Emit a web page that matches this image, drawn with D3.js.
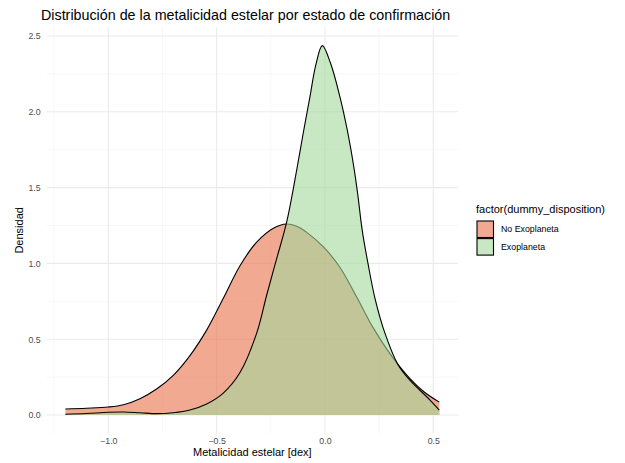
<!DOCTYPE html>
<html><head><meta charset="utf-8">
<script src="https://cdn.jsdelivr.net/npm/d3@7"></script>
<style>body{margin:0;background:#fff}text{font-family:"Liberation Sans",Arial,sans-serif}</style>
</head><body>
<svg id="c" width="625" height="463"></svg>
<script>
// ---- data ----
const categories = ["No Exoplaneta", "Exoplaneta"];
const fills = ["#e8704a", "#a1d99b"];
const redX = [-1.198,-1.10,-1.00,-0.93,-0.854,-0.777,-0.70,-0.623,-0.546,-0.469,-0.392,-0.315,-0.238,-0.177,-0.13,-0.084,-0.008,0.069,0.146,0.223,0.30,0.377,0.454,0.528];
const redY = [0.040,0.045,0.053,0.068,0.108,0.172,0.262,0.392,0.56,0.77,0.985,1.14,1.232,1.26,1.245,1.205,1.11,0.975,0.78,0.575,0.405,0.265,0.157,0.085];
const greenX = [-1.198,-1.10,-1.00,-0.93,-0.854,-0.777,-0.70,-0.623,-0.546,-0.469,-0.392,-0.315,-0.269,-0.223,-0.177,-0.131,-0.10,-0.069,-0.042,-0.012,0.026,0.069,0.103,0.134,0.152,0.172,0.20,0.231,0.277,0.338,0.392,0.485,0.528];
const greenY = [0.005,0.01,0.018,0.02,0.015,0.009,0.015,0.033,0.073,0.145,0.28,0.54,0.79,1.03,1.27,1.61,1.86,2.1,2.31,2.436,2.32,2.1,1.88,1.63,1.45,1.22,0.99,0.77,0.54,0.33,0.23,0.099,0.033];
const xTicks = [-1.0,-0.5,0.0,0.5];
const xMinor = [-1.25,-0.75,-0.25,0.25];
const yTicks = [0.0,0.5,1.0,1.5,2.0,2.5];
const yMinor = [0.25,0.75,1.25,1.75,2.25];
const title = "Distribución de la metalicidad estelar por estado de confirmación";
const xTitle = "Metalicidad estelar [dex]";
const yTitle = "Densidad";
const legendTitle = "factor(dummy_disposition)";

// ---- build ----
const svg = d3.select("#c");
const panel = {l:46.7, r:458, t:27.2, b:433.5};
const xmin = d3.min(redX.concat(greenX)), xmax = d3.max(redX.concat(greenX));
const xe = (xmax-xmin)*0.05;
const ymax = d3.max(redY.concat(greenY)), ye = ymax*0.05;
const x = d3.scaleLinear().domain([xmin-xe, xmax+xe]).range([panel.l, panel.r]);
const y = d3.scaleLinear().domain([-ye, ymax+ye]).range([panel.b, panel.t]);

const g = svg.append("g");
// grid
g.selectAll(".xm").data(xMinor).join("line").attr("x1",d=>x(d)).attr("x2",d=>x(d)).attr("y1",panel.t).attr("y2",panel.b).attr("stroke","#f2f2f2").attr("stroke-width",0.6);
g.selectAll(".ym").data(yMinor).join("line").attr("y1",d=>y(d)).attr("y2",d=>y(d)).attr("x1",panel.l).attr("x2",panel.r).attr("stroke","#f2f2f2").attr("stroke-width",0.6);
g.selectAll(".xg").data(xTicks).join("line").attr("x1",d=>x(d)).attr("x2",d=>x(d)).attr("y1",panel.t).attr("y2",panel.b).attr("stroke","#ebebeb").attr("stroke-width",1.1);
g.selectAll(".yg").data(yTicks).join("line").attr("y1",d=>y(d)).attr("y2",d=>y(d)).attr("x1",panel.l).attr("x2",panel.r).attr("stroke","#ebebeb").attr("stroke-width",1.1);

// densities
const series = [d3.zip(redX, redY), d3.zip(greenX, greenY)];
const curve = d3.curveCatmullRom.alpha(0.5);
const area = d3.area().x(d=>x(d[0])).y0(y(0)).y1(d=>y(d[1])).curve(curve);
const line = d3.line().x(d=>x(d[0])).y(d=>y(d[1])).curve(curve);
series.forEach((s,i)=>{
  g.append("path").attr("d",area(s)).attr("fill",fills[i]).attr("fill-opacity",0.6);
  g.append("path").attr("d",line(s)).attr("fill","none").attr("stroke","#000").attr("stroke-width",1.1);
});

// axes labels
const xAxis = d3.axisBottom(x).tickValues(xTicks).tickFormat(d3.format(".1f")).tickSize(0).tickPadding(4);
const xa = svg.append("g").attr("transform",`translate(0,${panel.b})`).call(xAxis);
xa.select(".domain").remove();
xa.selectAll("text").attr("fill","#4d4d4d").style("font-size","8.8px").style("font-family","Liberation Sans, Arial, sans-serif");
const yAxis = d3.axisLeft(y).tickValues(yTicks).tickFormat(d3.format(".1f")).tickSize(0).tickPadding(4);
const ya = svg.append("g").attr("transform",`translate(${panel.l-2},0)`).call(yAxis);
ya.select(".domain").remove();
ya.selectAll("text").attr("fill","#4d4d4d").style("font-size","8.8px").style("font-family","Liberation Sans, Arial, sans-serif");

svg.append("text").attr("x",41).attr("y",20).text(title).attr("fill","#000").style("font-size","14.3px");
svg.append("text").attr("x",(panel.l+panel.r)/2).attr("y",456).attr("text-anchor","middle").text(xTitle).style("font-size","11px");
svg.append("text").attr("transform",`translate(23,${(panel.t+panel.b)/2}) rotate(-90)`).attr("text-anchor","middle").text(yTitle).style("font-size","11px");

// legend
const lg = svg.append("g").attr("transform","translate(476,0)");
lg.append("text").attr("x",0).attr("y",213).text(legendTitle).style("font-size","11px");
categories.forEach((c,i)=>{
  const yy = 221 + i*17.6;
  lg.append("rect").attr("x",1).attr("y",yy).attr("width",16.5).attr("height",16.5).attr("fill","#fff");
  lg.append("rect").attr("x",1).attr("y",yy).attr("width",16.5).attr("height",16.5).attr("fill",fills[i]).attr("fill-opacity",0.6).attr("stroke","#000").attr("stroke-width",1.1);
  lg.append("text").attr("x",25).attr("y",yy+8.25).attr("dy","0.35em").text(c).style("font-size","8.8px").attr("fill","#000");
});
</script>
</body></html>
